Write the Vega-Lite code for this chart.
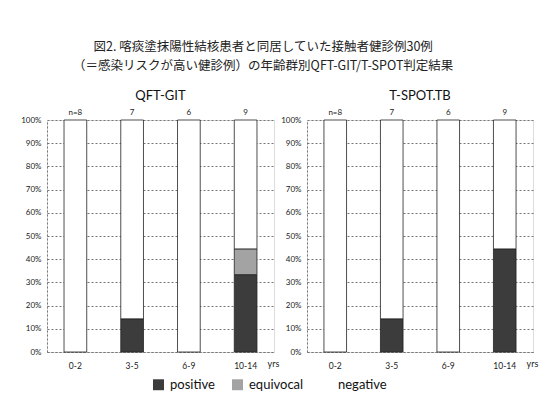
{
  "$schema": "https://vega.github.io/schema/vega-lite/v6.json",
  "background": "white",
  "padding": {"left": 20, "top": 41, "right": 10, "bottom": 8},
  "title": {
    "text": ["図2. 喀痰塗抹陽性結核患者と同居していた接触者健診例30例", "（＝感染リスクが高い健診例）の年齢群別QFT-GIT/T-SPOT判定結果"],
    "font": "Noto Sans CJK JP", "fontSize": 12.5, "fontWeight": "normal", "color": "#222",
    "anchor": "middle", "dx": -16, "offset": 17, "lineHeight": 19
  },
  "datasets": {
    "bars": [
      {"test": "QFT-GIT", "age": "0-2", "result": "negative", "rank": 3, "count": 8, "n": "n=8"},
      {"test": "QFT-GIT", "age": "3-5", "result": "positive", "rank": 1, "count": 1, "n": "7"},
      {"test": "QFT-GIT", "age": "3-5", "result": "negative", "rank": 3, "count": 6, "n": "7"},
      {"test": "QFT-GIT", "age": "6-9", "result": "negative", "rank": 3, "count": 6, "n": "6"},
      {"test": "QFT-GIT", "age": "10-14", "result": "positive", "rank": 1, "count": 3, "n": "9"},
      {"test": "QFT-GIT", "age": "10-14", "result": "equivocal", "rank": 2, "count": 1, "n": "9"},
      {"test": "QFT-GIT", "age": "10-14", "result": "negative", "rank": 3, "count": 5, "n": "9"},
      {"test": "T-SPOT.TB", "age": "0-2", "result": "negative", "rank": 3, "count": 8, "n": "n=8"},
      {"test": "T-SPOT.TB", "age": "3-5", "result": "positive", "rank": 1, "count": 1, "n": "7"},
      {"test": "T-SPOT.TB", "age": "3-5", "result": "negative", "rank": 3, "count": 6, "n": "7"},
      {"test": "T-SPOT.TB", "age": "6-9", "result": "negative", "rank": 3, "count": 6, "n": "6"},
      {"test": "T-SPOT.TB", "age": "10-14", "result": "positive", "rank": 1, "count": 4, "n": "9"},
      {"test": "T-SPOT.TB", "age": "10-14", "result": "negative", "rank": 3, "count": 5, "n": "9"}
    ]
  },
  "hconcat": [
    {
      "width": 227, "height": 232,
      "title": {"text": "QFT-GIT", "font": "Lato", "fontSize": 13, "fontWeight": "normal", "color": "#111", "offset": 6},
      "data": {"name": "bars"},
      "transform": [{"filter": "datum.test === 'QFT-GIT'"}],
      "encoding": {
        "x": {"field": "age", "type": "nominal", "sort": ["0-2", "3-5", "6-9", "10-14"], "scale": {"paddingInner": 0.6, "paddingOuter": 0.3},
          "axis": {"title": "yrs", "titleAnchor": "end", "titleAlign": "left", "titleBaseline": "top", "titleX": 220, "titleY": 7,
            "domain": true, "domainColor": "#777777", "domainDash": [2, 2], "domainWidth": 1, "tickSize": 0}},
        "y": {"field": "count", "type": "quantitative", "stack": "normalize", "scale": {"domain": [0, 1]},
          "axis": {"title": null, "values": [0, 0.1, 0.2, 0.3, 0.4, 0.5, 0.6, 0.7, 0.8, 0.9, 1], "format": ".0%", "labelOverlap": false,
            "grid": true, "gridColor": "#777777", "gridDash": [2, 2], "gridWidth": 1, "gridOpacity": 1,
            "domain": true, "domainColor": "#777777", "domainDash": [2, 2], "tickSize": 0}},
        "order": {"field": "rank", "type": "quantitative"}
      },
      "layer": [
        {
          "mark": {"type": "bar", "stroke": "#222", "strokeWidth": 0.8},
          "encoding": {
            "color": {"field": "result", "type": "nominal", "scale": {"domain": ["positive", "equivocal", "negative"], "range": ["#3c3c3c", "#a3a3a3", "#ffffff"]}, "legend": {"title": null}}
          }
        },
        {
          "transform": [{"filter": "datum.result === 'negative'"}],
          "mark": {"type": "text", "baseline": "bottom", "dy": -3, "fontSize": 8, "font": "Lato", "color": "#222"},
          "encoding": {"text": {"field": "n"}}
        }
      ]
    },
    {
      "width": 226, "height": 232,
      "title": {"text": "T-SPOT.TB", "font": "Lato", "fontSize": 13, "fontWeight": "normal", "color": "#111", "offset": 6},
      "data": {"name": "bars"},
      "transform": [{"filter": "datum.test === 'T-SPOT.TB'"}],
      "encoding": {
        "x": {"field": "age", "type": "nominal", "sort": ["0-2", "3-5", "6-9", "10-14"], "scale": {"paddingInner": 0.6, "paddingOuter": 0.3},
          "axis": {"title": "yrs", "titleAnchor": "end", "titleAlign": "left", "titleBaseline": "top", "titleX": 219, "titleY": 7,
            "domain": true, "domainColor": "#777777", "domainDash": [2, 2], "domainWidth": 1, "tickSize": 0}},
        "y": {"field": "count", "type": "quantitative", "stack": "normalize", "scale": {"domain": [0, 1]},
          "axis": {"title": null, "values": [0, 0.1, 0.2, 0.3, 0.4, 0.5, 0.6, 0.7, 0.8, 0.9, 1], "format": ".0%", "labelOverlap": false,
            "grid": true, "gridColor": "#777777", "gridDash": [2, 2], "gridWidth": 1, "gridOpacity": 1,
            "domain": true, "domainColor": "#777777", "domainDash": [2, 2], "tickSize": 0}},
        "order": {"field": "rank", "type": "quantitative"}
      },
      "layer": [
        {
          "mark": {"type": "bar", "stroke": "#222", "strokeWidth": 0.8},
          "encoding": {
            "color": {"field": "result", "type": "nominal", "scale": {"domain": ["positive", "equivocal", "negative"], "range": ["#3c3c3c", "#a3a3a3", "#ffffff"]}, "legend": {"title": null}}
          }
        },
        {
          "transform": [{"filter": "datum.result === 'negative'"}],
          "mark": {"type": "text", "baseline": "bottom", "dy": -3, "fontSize": 8, "font": "Lato", "color": "#222"},
          "encoding": {"text": {"field": "n"}}
        }
      ]
    }
  ],
  "spacing": 0,
  "resolve": {"scale": {"color": "shared"}},
  "config": {
    "font": "Lato",
    "axisX": {
      "titleFont": "Lato", "titleFontSize": 9, "titleFontWeight": "normal", "titleColor": "#222",
      "labelAngle": 0, "labelFontSize": 8.5, "labelColor": "#222", "labelPadding": 9
    },
    "axisY": {
      "labelFontSize": 8, "labelColor": "#222", "labelPadding": 6
    },
    "legend": {
      "orient": "none", "legendX": 105, "legendY": 258, "direction": "horizontal", "symbolType": "square", "symbolSize": 120,
      "symbolStrokeWidth": 0, "labelFont": "Lato", "labelFontSize": 13, "labelColor": "#111",
      "columnPadding": 16, "labelOffset": 5
    }
  }
}
